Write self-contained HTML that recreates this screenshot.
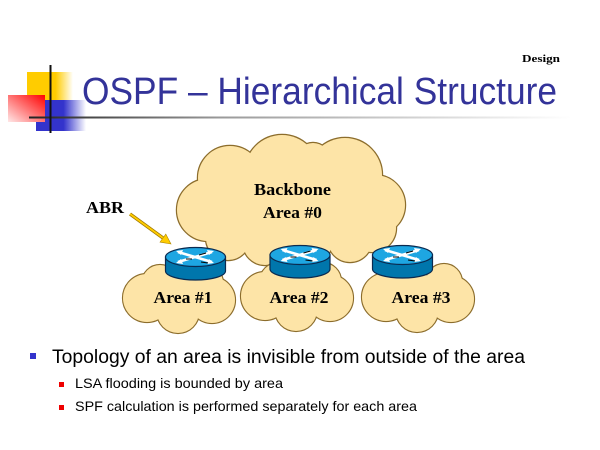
<!DOCTYPE html>
<html><head><meta charset="utf-8"><style>
html,body{margin:0;padding:0;background:#fff;width:600px;height:450px;overflow:hidden}
svg{display:block}
</style></head><body>
<svg width="600" height="450" viewBox="0 0 600 450" xmlns="http://www.w3.org/2000/svg">
<defs>
<linearGradient id="gy" x1="0" y1="0" x2="1" y2="0"><stop offset="0" stop-color="#FFCC00"/><stop offset="0.62" stop-color="#FFCC00"/><stop offset="1" stop-color="#FFFFFF"/></linearGradient>
<linearGradient id="gb" x1="0" y1="0" x2="1" y2="0"><stop offset="0" stop-color="#3333CC"/><stop offset="0.55" stop-color="#3333CC"/><stop offset="1" stop-color="#FFFFFF"/></linearGradient>
<linearGradient id="gr" x1="1" y1="0" x2="0" y2="1"><stop offset="0" stop-color="#FF0000"/><stop offset="1" stop-color="#FFE8E8"/></linearGradient>
<linearGradient id="gl" x1="0" y1="0" x2="1" y2="0"><stop offset="0" stop-color="#222"/><stop offset="0.35" stop-color="#999"/><stop offset="1" stop-color="#FFFFFF"/></linearGradient>
</defs>

<!-- logo -->
<rect x="27" y="72" width="46" height="29" fill="url(#gy)"/>
<rect x="36" y="100" width="50" height="31" fill="url(#gb)"/>
<rect x="8" y="95" width="37" height="27" fill="url(#gr)"/>
<rect x="29" y="116.5" width="542" height="2" fill="url(#gl)"/>
<rect x="49.5" y="65" width="2" height="68" fill="#111"/>

<text x="522" y="62" font-family="Liberation Serif, serif" font-weight="bold" font-size="11" textLength="38" lengthAdjust="spacingAndGlyphs" fill="#000">Design</text>
<text x="82" y="104" font-family="Liberation Sans, sans-serif" font-size="38" textLength="475" lengthAdjust="spacingAndGlyphs" fill="#333399">OSPF – Hierarchical Structure</text>

<!-- backbone cloud -->
<g fill="#FDE4A7" stroke="#8C6D2C" stroke-width="2.4">
<circle cx="282" cy="172" r="37"/><circle cx="345" cy="175" r="37"/><circle cx="313" cy="160" r="17"/>
<circle cx="375" cy="205" r="30"/><circle cx="230" cy="178" r="32"/><circle cx="208" cy="210" r="31"/>
<circle cx="228" cy="238" r="22"/><circle cx="265" cy="243" r="22"/><circle cx="310" cy="242" r="22"/>
<circle cx="350" cy="240" r="22"/><circle cx="372" cy="228" r="24"/>
</g>
<g fill="#FDE4A7">
<circle cx="282" cy="172" r="37"/><circle cx="345" cy="175" r="37"/><circle cx="313" cy="160" r="17"/>
<circle cx="375" cy="205" r="30"/><circle cx="230" cy="178" r="32"/><circle cx="208" cy="210" r="31"/>
<circle cx="228" cy="238" r="22"/><circle cx="265" cy="243" r="22"/><circle cx="310" cy="242" r="22"/>
<circle cx="350" cy="240" r="22"/><circle cx="372" cy="228" r="24"/>
<ellipse cx="290" cy="205" rx="90" ry="45"/>
</g>

<!-- area clouds -->
<g id="ac">
<g fill="#FDE4A7" stroke="#8C6D2C" stroke-width="2.2">
<circle cx="147" cy="298" r="24"/><circle cx="178" cy="312" r="21"/><circle cx="212" cy="300" r="23"/>
<circle cx="160" cy="283" r="18"/><circle cx="205" cy="283" r="18"/>
</g>
<g fill="#FDE4A7">
<circle cx="147" cy="298" r="24"/><circle cx="178" cy="312" r="21"/><circle cx="212" cy="300" r="23"/>
<circle cx="160" cy="283" r="18"/><circle cx="205" cy="283" r="18"/>
<ellipse cx="180" cy="298" rx="42" ry="22"/>
</g>
</g>
<use href="#ac" x="118" y="-2"/>
<use href="#ac" x="239" y="-1"/>

<!-- routers -->
<g id="rt" stroke="#0A2A50" stroke-width="1.2">
<path d="M165.5,257 L165.5,271 A30 9 0 0 0 225.5,271 L225.5,257 Z" fill="#0076AC"/>
<ellipse cx="195.5" cy="257" rx="30" ry="9.5" fill="#1EA6E2"/>
<g stroke="#fff" stroke-width="2.6" fill="none">
<path d="M178,252 L212,262"/><path d="M178,262 L212,252"/>
</g>
<g fill="#fff" stroke="none">
<polygon points="176,251 183,250 181,255"/><polygon points="214,263 207,264 209,259"/>
<polygon points="176,263 181,259 183,264"/><polygon points="214,251 209,255 207,250"/>
</g>
<g stroke="#000" stroke-width="1" fill="none">
<path d="M186,259 L192,259"/><path d="M199,255 L206,253"/><path d="M201,262 L208,263"/>
</g>
</g>
<use href="#rt" x="104.5" y="-2"/>
<use href="#rt" x="207" y="-2"/>

<!-- labels -->
<g font-family="Liberation Serif, serif" font-weight="bold" font-size="17" fill="#000" text-anchor="middle">
<text x="292.5" y="195" textLength="77" lengthAdjust="spacingAndGlyphs">Backbone</text>
<text x="292.5" y="218" textLength="59" lengthAdjust="spacingAndGlyphs">Area #0</text>
<text x="183" y="303" textLength="59" lengthAdjust="spacingAndGlyphs">Area #1</text>
<text x="299" y="303" textLength="59" lengthAdjust="spacingAndGlyphs">Area #2</text>
<text x="421" y="303" textLength="59" lengthAdjust="spacingAndGlyphs">Area #3</text>
</g>
<text x="86" y="213" font-family="Liberation Serif, serif" font-weight="bold" font-size="17" textLength="38" lengthAdjust="spacingAndGlyphs" fill="#000">ABR</text>

<!-- arrow -->
<line x1="130" y1="214" x2="163" y2="238" stroke="#A07800" stroke-width="3.4"/>
<line x1="130" y1="214" x2="163" y2="238" stroke="#FFCC00" stroke-width="1.8"/>
<polygon points="171,244 160,242.1 165.8,234.1" fill="#FFCC00" stroke="#B08800" stroke-width="0.6"/>

<!-- bullets -->
<rect x="30" y="353" width="6" height="6" fill="#3333CC"/>
<text x="52" y="363" font-family="Liberation Sans, sans-serif" font-size="19" textLength="473" lengthAdjust="spacingAndGlyphs" fill="#000">Topology of an area is invisible from outside of the area</text>
<rect x="59" y="382" width="5" height="5" fill="#EE0000"/>
<text x="75" y="388" font-family="Liberation Sans, sans-serif" font-size="14" textLength="208" lengthAdjust="spacingAndGlyphs" fill="#000">LSA flooding is bounded by area</text>
<rect x="59" y="405" width="5" height="5" fill="#EE0000"/>
<text x="75" y="411" font-family="Liberation Sans, sans-serif" font-size="14" textLength="342" lengthAdjust="spacingAndGlyphs" fill="#000">SPF calculation is performed separately for each area</text>
</svg>
</body></html>
